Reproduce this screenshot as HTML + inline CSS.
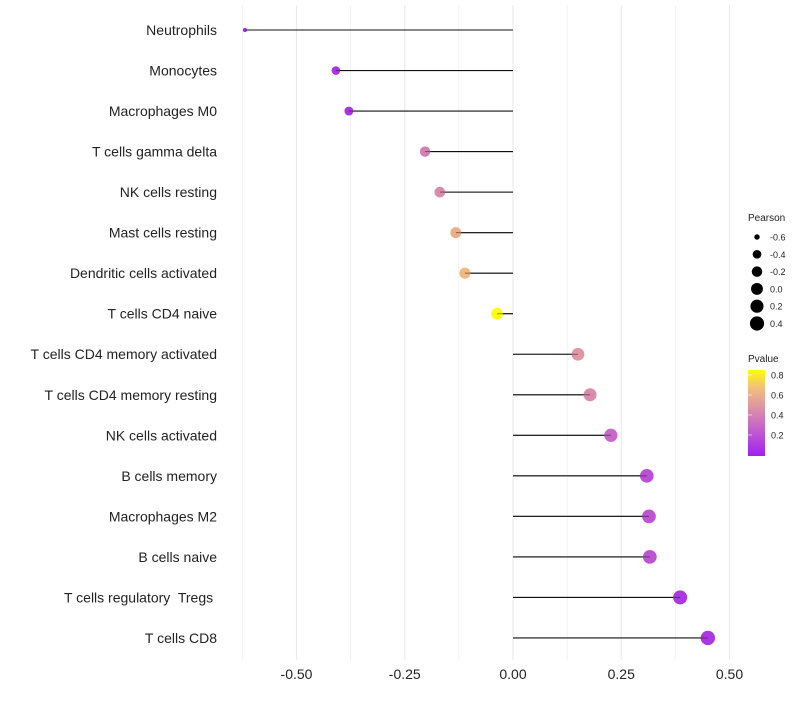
<!DOCTYPE html>
<html><head><meta charset="utf-8"><style>
body{margin:0;background:#fff;font-family:"Liberation Sans",sans-serif}
text{white-space:pre}
</style></head><body>
<svg id="c" width="800" height="700" xmlns="http://www.w3.org/2000/svg">
<defs><linearGradient id="pg" x1="0" y1="1" x2="0" y2="0">
<stop offset="0" stop-color="#a020f0"/><stop offset="0.35" stop-color="#c868c8"/><stop offset="0.6" stop-color="#e09aa0"/><stop offset="0.8" stop-color="#f4c07a"/><stop offset="1" stop-color="#ffff00"/></linearGradient></defs>
</svg>
<script>
const cells=["Neutrophils","Monocytes","Macrophages M0","T cells gamma delta","NK cells resting","Mast cells resting","Dendritic cells activated","T cells CD4 naive","T cells CD4 memory activated","T cells CD4 memory resting","NK cells activated","B cells memory","Macrophages M2","B cells naive","T cells regulatory  Tregs ","T cells CD8"];
const pearson=[-0.619,-0.409,-0.379,-0.203,-0.169,-0.132,-0.111,-0.037,0.150,0.178,0.226,0.309,0.314,0.316,0.386,0.450];
const pvalue=[0.05,0.08,0.08,0.4,0.45,0.6,0.65,0.88,0.5,0.45,0.3,0.2,0.22,0.22,0.1,0.1];
const xTicks=[-0.5,-0.25,0,0.25,0.5];
const xTickLabels=["-0.50","-0.25","0.00","0.25","0.50"];
const sizeBreaks=[-0.6,-0.4,-0.2,0.0,0.2,0.4];
const sizeLabels=["-0.6","-0.4","-0.2","0.0","0.2","0.4"];
const pBreaks=[0.8,0.6,0.4,0.2];
const svg=document.getElementById('c');const NS="http://www.w3.org/2000/svg";
function mk(t,a,p){const e=document.createElementNS(NS,t);for(const k in a)e.setAttribute(k,a[k]);(p||svg).appendChild(e);return e;}
const X=v=>513+v*433;
const Y=i=>30+i*40.53;
const R=v=>2+5.2*Math.sqrt(Math.max(0,(v+0.62)/1.07));
const stops=[[0,[160,32,240]],[0.3,[200,104,200]],[0.51,[224,154,160]],[0.68,[244,192,122]],[0.85,[255,255,0]]];
function col(p){if(p>=0.85)return"rgb(255,255,0)";for(let i=0;i<stops.length-1;i++){const[a,c1]=stops[i],[b,c2]=stops[i+1];if(p<=b){const t=(p-a)/(b-a);return"rgb("+c1.map((c,j)=>Math.round(c+(c2[j]-c)*t)).join(",")+")";}}}
for(let v=-0.625;v<=0.55;v+=0.125){const g=mk('line',{x1:X(v),x2:X(v),y1:5,y2:660,stroke:"#ebebeb","stroke-width":Math.abs((v*4)%1)<1e-6?1.2:0.6});

}
xTicks.forEach((v,i)=>{const t=mk('text',{x:X(v),y:679,"text-anchor":"middle","font-size":14,fill:"#222"});t.textContent=xTickLabels[i];

});
cells.forEach((c,i)=>{const y=Y(i);
const l=mk('text',{x:217,y:y+5,"text-anchor":"end","font-size":14,fill:"#222"});l.textContent=c;


const s=mk('line',{x1:X(0),x2:X(pearson[i]),y1:y,y2:y,stroke:"#111","stroke-width":1.1});


const d=mk('circle',{cx:X(pearson[i]),cy:y,r:R(pearson[i]),fill:col(pvalue[i])});


const s2=mk('line',{x1:X(0),x2:X(pearson[i]),y1:y,y2:y,stroke:"#111","stroke-width":1,opacity:0.5});

});
const lt=mk('text',{x:748,y:221,"font-size":10,fill:"#222"});lt.textContent="Pearson";


sizeBreaks.forEach((v,i)=>{const y=237+i*17.3;
const c=mk('circle',{cx:757,cy:y,r:R(v),fill:"#000"});


const t=mk('text',{x:770,y:y+3.5,"font-size":9,fill:"#222"});t.textContent=sizeLabels[i];

});
const pt=mk('text',{x:748,y:362,"font-size":10,fill:"#222"});pt.textContent="Pvalue";


const bar=mk('rect',{x:748,y:370,width:17,height:86,fill:"url(#pg)"});


const PY=p=>455-p*100;
pBreaks.forEach(p=>{const t=mk('text',{x:771,y:PY(p)+3.5,"font-size":9,fill:"#222"});t.textContent=p.toFixed(1);


const k=mk('line',{x1:748,x2:752,y1:PY(p),y2:PY(p),stroke:"#fff","stroke-width":0.6});

});
</script>
</body></html>
